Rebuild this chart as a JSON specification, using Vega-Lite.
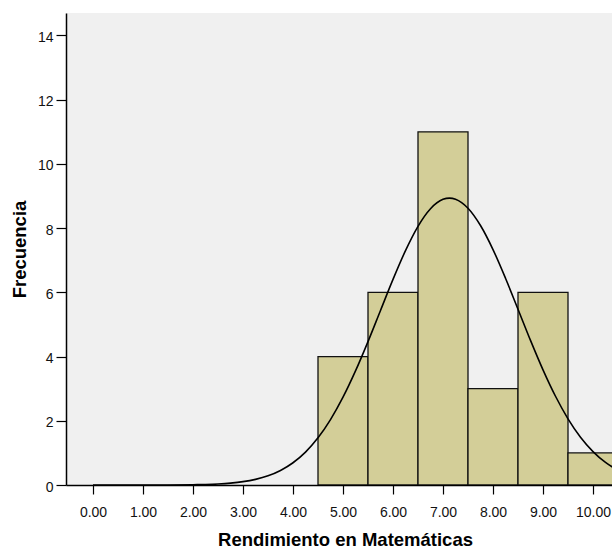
{
  "$schema": "https://vega.github.io/schema/vega-lite/v6.json",
  "width": 546,
  "height": 472,
  "autosize": {"type": "none"},
  "padding": {"left": 66, "top": 13, "right": 0, "bottom": 63},
  "background": "white",
  "config": {
    "font": "Liberation Sans",
    "view": {"fill": "#f0f0f0", "stroke": null}
  },
  "datasets": {
    "bins": [
      {"start": 4.5, "end": 5.5, "count": 4},
      {"start": 5.5, "end": 6.5, "count": 6},
      {"start": 6.5, "end": 7.5, "count": 11},
      {"start": 7.5, "end": 8.5, "count": 3},
      {"start": 8.5, "end": 9.5, "count": 6},
      {"start": 9.5, "end": 10.5, "count": 1}
    ],
    "curve": [
      {"x": 0.0, "y": 0.0},
      {"x": 0.5, "y": 0.0001},
      {"x": 1.0, "y": 0.0005},
      {"x": 1.5, "y": 0.0023},
      {"x": 2.0, "y": 0.0093},
      {"x": 2.25, "y": 0.0178},
      {"x": 2.5, "y": 0.0332},
      {"x": 2.75, "y": 0.0598},
      {"x": 3.0, "y": 0.104},
      {"x": 3.25, "y": 0.176},
      {"x": 3.5, "y": 0.286},
      {"x": 3.75, "y": 0.453},
      {"x": 4.0, "y": 0.693},
      {"x": 4.25, "y": 1.025},
      {"x": 4.5, "y": 1.469},
      {"x": 4.75, "y": 2.037},
      {"x": 5.0, "y": 2.734},
      {"x": 5.25, "y": 3.552},
      {"x": 5.5, "y": 4.466},
      {"x": 5.75, "y": 5.435},
      {"x": 6.0, "y": 6.403},
      {"x": 6.25, "y": 7.3},
      {"x": 6.5, "y": 8.056},
      {"x": 6.75, "y": 8.604},
      {"x": 7.0, "y": 8.896},
      {"x": 7.13, "y": 8.935},
      {"x": 7.25, "y": 8.901},
      {"x": 7.5, "y": 8.621},
      {"x": 7.75, "y": 8.082},
      {"x": 8.0, "y": 7.333},
      {"x": 8.25, "y": 6.44},
      {"x": 8.5, "y": 5.475},
      {"x": 8.75, "y": 4.504},
      {"x": 9.0, "y": 3.587},
      {"x": 9.25, "y": 2.764},
      {"x": 9.5, "y": 2.062},
      {"x": 9.75, "y": 1.489},
      {"x": 10.0, "y": 1.041},
      {"x": 10.25, "y": 0.704},
      {"x": 10.5, "y": 0.461},
      {"x": 10.75, "y": 0.292}
    ]
  },
  "layer": [
    {
      "data": {"name": "bins"},
      "mark": {"type": "bar", "fill": "#d3ce98", "stroke": "#111111", "strokeWidth": 1.3, "clip": true},
      "encoding": {
        "x": {
          "field": "start",
          "type": "quantitative",
          "scale": {"domain": [-0.54, 10.38], "nice": false, "zero": false},
          "axis": {
            "values": [0, 1, 2, 3, 4, 5, 6, 7, 8, 9, 10],
            "format": ".2f",
            "grid": false,
            "domain": true,
            "domainColor": "#000000",
            "domainWidth": 1.5,
            "tickColor": "#000000",
            "tickWidth": 1.2,
            "tickSize": 9,
            "labelFontSize": 14,
            "labelColor": "#111111",
            "labelPadding": 11,
            "title": "Rendimiento en Matemáticas",
            "titleFontSize": 18.5,
            "titleFontWeight": "bold",
            "titleColor": "#000000",
            "titleX": 279,
            "titleY": 60,
            "titleAlign": "center",
            "titleBaseline": "alphabetic"
          }
        },
        "x2": {"field": "end"},
        "y": {
          "field": "count",
          "type": "quantitative",
          "scale": {"domain": [0, 14.7], "nice": false},
          "axis": {
            "values": [0, 2, 4, 6, 8, 10, 12, 14],
            "grid": false,
            "domain": true,
            "domainColor": "#000000",
            "domainWidth": 1.5,
            "tickColor": "#000000",
            "tickWidth": 1.2,
            "tickSize": 10,
            "labelFontSize": 14,
            "labelColor": "#111111",
            "labelPadding": 3,
            "labelOffset": 2,
            "title": "Frecuencia",
            "titleFontSize": 18.5,
            "titleFontWeight": "bold",
            "titleColor": "#000000",
            "titleAngle": -90,
            "titleX": -41,
            "titleY": 236,
            "titleAlign": "center",
            "titleBaseline": "alphabetic"
          }
        },
        "y2": {"datum": 0}
      }
    },
    {
      "data": {"name": "curve"},
      "mark": {"type": "line", "color": "#000000", "strokeWidth": 1.6, "interpolate": "monotone", "clip": true},
      "encoding": {
        "x": {"field": "x", "type": "quantitative"},
        "y": {"field": "y", "type": "quantitative"}
      }
    },
    {
      "mark": {"type": "rule", "color": "#000000", "strokeWidth": 1.5},
      "encoding": {
        "y": {"datum": 14.7}
      }
    }
  ]
}
